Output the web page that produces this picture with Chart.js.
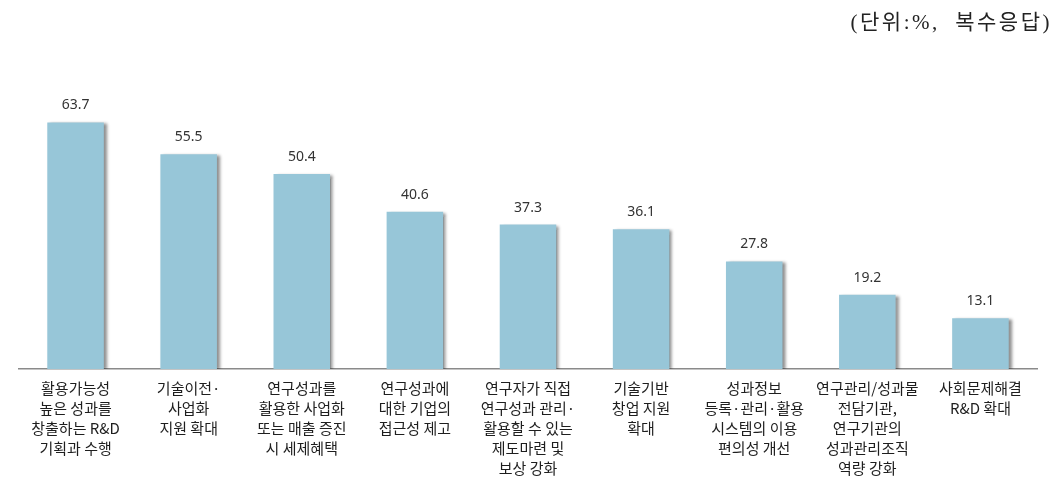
<!DOCTYPE html>
<html>
<head>
<meta charset="utf-8">
<script src="https://cdn.jsdelivr.net/npm/chart.js@4.4.0/dist/chart.umd.min.js"></script>
<style>
html,body{margin:0;padding:0;background:#fff;}
#wrap{width:1062px;height:496px;position:relative;}
</style>
</head>
<body>
<div id="wrap"><canvas id="c" width="1062" height="496"></canvas></div>
<script>
const categories = [
  ["활용가능성","높은 성과를","창출하는 R&D","기획과 수행"],
  ["기술이전·","사업화","지원 확대"],
  ["연구성과를","활용한 사업화","또는 매출 증진","시 세제혜택"],
  ["연구성과에","대한 기업의","접근성 제고"],
  ["연구자가 직접","연구성과 관리·","활용할 수 있는","제도마련 및","보상 강화"],
  ["기술기반","창업 지원","확대"],
  ["성과정보","등록·관리·활용","시스템의 이용","편의성 개선"],
  ["연구관리/성과물","전담기관,","연구기관의","성과관리조직","역량 강화"],
  ["사회문제해결","R&D 확대"]
];
const values = [63.7, 55.5, 50.4, 40.6, 37.3, 36.1, 27.8, 19.2, 13.1];
const unitText = "(단위:%,  복수응답)";

const shadowPlugin = {
  id: 'shadow',
  beforeDatasetsDraw(chart) {
    const ctx = chart.ctx;
    ctx.save();
    ctx.shadowColor = 'rgba(0,0,0,0.45)';
    ctx.shadowOffsetX = 3;
    ctx.shadowOffsetY = 1;
    ctx.shadowBlur = 3;
  },
  afterDatasetsDraw(chart) {
    chart.ctx.restore();
  }
};

const labelPlugin = {
  id: 'valueLabels',
  afterDraw(chart) {
    const ctx = chart.ctx;
    const meta = chart.getDatasetMeta(0);
    ctx.save();
    ctx.font = '14px "Noto Sans", "DejaVu Sans", sans-serif';
    ctx.fillStyle = '#333333';
    ctx.textAlign = 'center';
    ctx.textBaseline = 'middle';
    meta.data.forEach((bar, i) => {
      ctx.fillText(values[i].toFixed(1), bar.x, bar.y - 17);
    });
    ctx.font = '21px "Liberation Serif", "DejaVu Serif", "Noto Sans CJK KR", serif';
    ctx.fillStyle = '#222222';
    ctx.textAlign = 'right';
    try { ctx.letterSpacing = '2.5px'; } catch (e) {}
    ctx.fillText(unitText, 1052, 23);
    ctx.restore();
  }
};

new Chart(document.getElementById('c'), {
  type: 'bar',
  data: {
    labels: categories,
    datasets: [{
      data: values,
      backgroundColor: '#97C6D8',
      borderWidth: 0,
      barPercentage: 0.5,
      categoryPercentage: 1.0
    }]
  },
  options: {
    responsive: false,
    animation: false,
    layout: { padding: { left: 19, right: 25, top: 98, bottom: 9 } },
    plugins: { legend: { display: false }, tooltip: { enabled: false } },
    scales: {
      x: {
        grid: { display: false, drawTicks: false },
        border: { display: true, color: '#8a8a8a', width: 1.5 },
        ticks: {
          autoSkip: false,
          maxRotation: 0,
          minRotation: 0,
          padding: 9,
          color: '#1e1e1e',
          font: { family: '"Noto Sans CJK KR", sans-serif', size: 15, lineHeight: 1.333 }
        }
      },
      y: {
        display: false,
        min: 0,
        max: 70
      }
    }
  },
  plugins: [shadowPlugin, labelPlugin]
});
</script>
</body>
</html>
